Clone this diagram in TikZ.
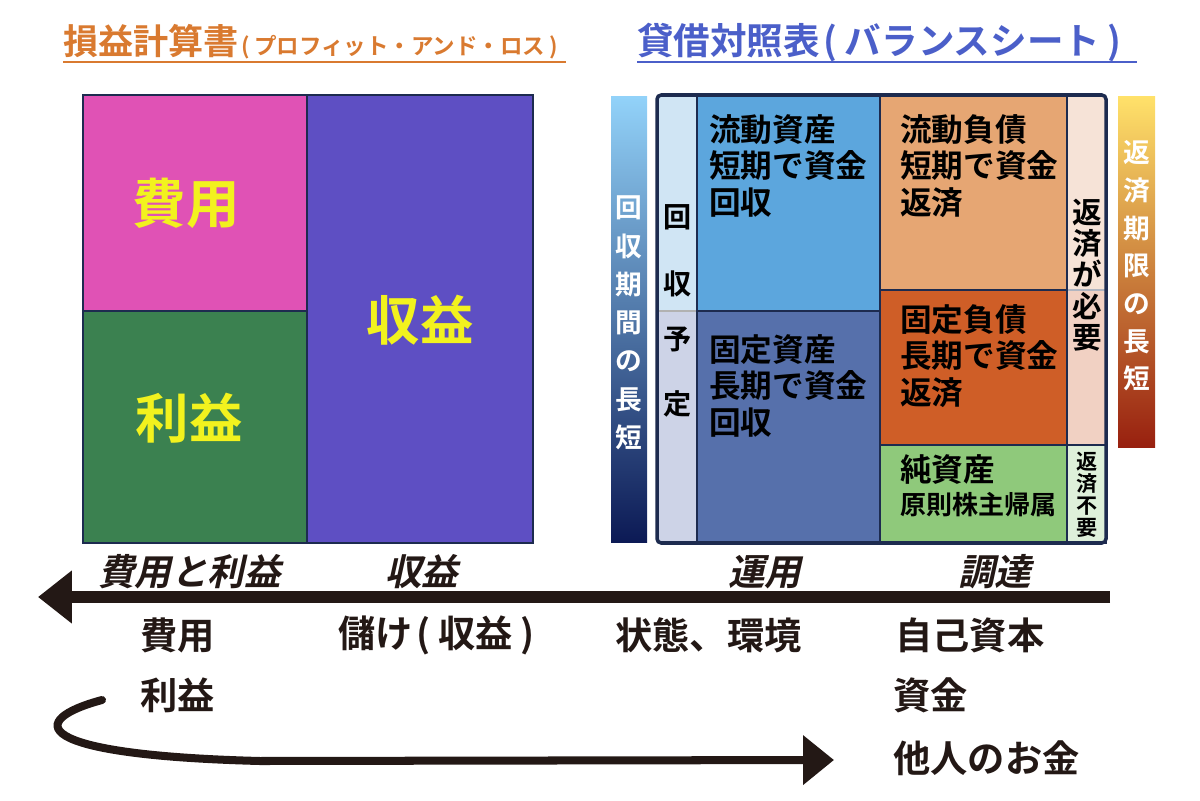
\documentclass[tikz,border=0pt]{standalone}
\usepackage{fontspec}
\setmainfont{Noto Sans CJK JP}[BoldFont={Noto Sans CJK JP Bold}]
\newfontfamily\slantjp{Noto Sans CJK JP Bold}[FakeSlant=0.22]
\usetikzlibrary{arrows.meta}
\definecolor{plorange}{HTML}{D97A30}
\definecolor{bsblue}{HTML}{4B5FC9}
\definecolor{frame}{HTML}{1D2B4F}
\definecolor{hiyou}{HTML}{E052B5}
\definecolor{rieki}{HTML}{3B8150}
\definecolor{shueki}{HTML}{5E4FC3}
\definecolor{txtyellow}{HTML}{F2F21E}
\definecolor{kaishuA}{HTML}{D0E5F4}
\definecolor{kaishuB}{HTML}{CDD3E7}
\definecolor{ryudoA}{HTML}{5CA6DD}
\definecolor{koteiA}{HTML}{5670AB}
\definecolor{ryudoF}{HTML}{E6A673}
\definecolor{koteiF}{HTML}{CF5E27}
\definecolor{junshi}{HTML}{8FC97B}
\definecolor{hensaiA}{HTML}{F6E3D7}
\definecolor{hensaiB}{HTML}{F1D1C3}
\definecolor{fuyou}{HTML}{DEF0DA}
\definecolor{gradAtop}{HTML}{92D2F9}
\definecolor{gradAbot}{HTML}{0C1A55}
\definecolor{gradBtop}{HTML}{FFE16A}
\definecolor{gradBbot}{HTML}{98200F}
\definecolor{ink}{HTML}{231815}
\newcommand\fsz[2]{\fontsize{#1}{#2}\selectfont}
\newcommand\lp{\hspace{0.1em}(\hspace{0.2em}}
\newcommand\rp{\hspace{0.2em})}
\tikzset{
  cell/.style={draw=frame, line width=2pt},
  bigtxt/.style={text=txtyellow, font=\bfseries\fsz{38}{40}},
  bstxt/.style={anchor=north west, align=left, inner sep=0pt, font=\bfseries\fsz{22.5}{26}},
  vtxt/.style={align=center, inner sep=0pt},
  axlabel/.style={anchor=west, inner sep=0pt, text=ink, font=\slantjp\fsz{26}{28}},
  lowlabel/.style={anchor=west, inner sep=0pt, text=ink, font=\bfseries\fsz{26.5}{28}},
}
\begin{document}
\begin{tikzpicture}[x=0.025cm, y=-0.025cm]
\useasboundingbox (0,0) rectangle (1200,800);
% titles
\node[anchor=base west, inner sep=0pt, text=plorange, font=\bfseries\fsz{25}{27}] (pltitle) at (63,55)
  {損益計算書{\fsz{16}{17}\lp プロフィット・アンド・ロス\rp}};
\draw[plorange, line width=1.3pt] (63,62) -- (566,62);
\node[anchor=base west, inner sep=0pt, text=bsblue, font=\bfseries\fsz{26}{27}] (bstitle) at (637,55)
  {貸借対照表\lp バランスシート\rp};
\draw[bsblue, line width=1.3pt] (637,62) -- (1137,62);
% P/L
\draw[cell, fill=hiyou] (83,95) rectangle (307,311);
\draw[cell, fill=rieki] (83,311) rectangle (307,543);
\draw[cell, fill=shueki] (307,95) rectangle (533,543);
\node[bigtxt] (hiyoubox) at (186,203) {費用};
\node[bigtxt] (riekibox) at (189,418) {利益};
\node[bigtxt] (shuekibox) at (420,320) {収益};
% gradient bars
\shade[top color=gradAtop, bottom color=gradAbot] (611,97) rectangle (647,542);
\node[vtxt, text=white, font=\bfseries\fsz{19}{27.2}] (kikanA) at (629,323) {回\\収\\期\\間\\の\\長\\短};
\shade[top color=gradBtop, bottom color=gradBbot] (1118,97) rectangle (1155,447);
\node[vtxt, text=white, font=\bfseries\fsz{19}{26.8}] (kikanB) at (1137,266) {返\\済\\期\\限\\の\\長\\短};
% B/S
\fill[kaishuA] (657,95) rectangle (697,311);
\fill[kaishuB] (657,311) rectangle (697,543);
\draw[black!30, line width=1pt] (657,311) -- (697,311);
\draw[cell, fill=ryudoA] (697,95) rectangle (880,311);
\draw[cell, fill=koteiA] (697,311) rectangle (880,543);
\draw[cell, fill=ryudoF] (880,95) rectangle (1067,290);
\draw[cell, fill=koteiF] (880,290) rectangle (1067,445);
\draw[cell, fill=junshi] (880,445) rectangle (1067,543);
\fill[hensaiA] (1067,95) rectangle (1106,290);
\fill[hensaiB] (1067,290) rectangle (1106,445);
\draw[frame!35, line width=1.5pt] (1067,290) -- (1106,290);
\draw[cell, fill=fuyou] (1067,445) rectangle (1106,543);
\draw[cell] (1067,95) -- (1067,445);
\draw[cell, line width=2.5pt, rounded corners=3pt] (657,95) rectangle (1106,543);
\node[vtxt, font=\bfseries\fsz{20}{48}] (kaishu) at (678,251) {回\\収};
\node[vtxt, font=\bfseries\fsz{20}{46}] (yotei) at (678,372) {予\\定};
\node[bstxt] (ryudoshisan) at (709,114) {流動資産\\短期で資金\\回収};
\node[bstxt] (koteishisan) at (709,334) {固定資産\\長期で資金\\回収};
\node[bstxt] (ryudofusai) at (900,114) {流動負債\\短期で資金\\返済};
\node[bstxt] (koteifusai) at (900,304) {固定負債\\長期で資金\\返済};
\node[anchor=west, inner sep=0pt, font=\bfseries\fsz{22.5}{26}] (junshisan) at (900,470) {純資産};
\node[anchor=west, inner sep=0pt, font=\bfseries\fsz{18.5}{20}] (kabunushi) at (900,505) {原則株主帰属};
\node[vtxt, font=\bfseries\fsz{21}{22.2}] (hitsuyou) at (1087,275) {返\\済\\が\\必\\要};
\node[vtxt, font=\bfseries\fsz{15}{15.6}] (fuyoutxt) at (1087,495) {返\\済\\不\\要};
% axis
\node[axlabel] (ax1) at (98,572) {費用と利益};
\node[axlabel] (ax2) at (385,572) {収益};
\node[axlabel] (ax3) at (728,572) {運用};
\node[axlabel] (ax4) at (958,572) {調達};
\coordinate (axR) at (1110,597);
\coordinate (axL) at (38,597);
\draw[ink, line width=8.5pt, -{Triangle[length=24pt, width=36pt]}] (axR) -- (axL);
% lower labels
\node[lowlabel] (low1) at (140,635) {費用};
\node[lowlabel] (low2) at (338,635) {儲け\lp 収益\rp};
\node[lowlabel] (low3) at (615,635) {状態、環境};
\node[lowlabel] (low4) at (895,635) {自己資本};
\node[lowlabel] (low5) at (140,695) {利益};
\node[lowlabel] (low6) at (893,695) {資金};
\node[lowlabel] (low7) at (893,758) {他人のお金};
% return arrow
\coordinate (crvS) at (102,700);
\coordinate (crvE) at (834,760);
\draw[ink, line width=5.7pt, line cap=round, -{Triangle[length=22pt, width=34pt]}]
  (crvS) .. controls (27,720) and (27,755) .. (260,761) -- (crvE);
\end{tikzpicture}
\end{document}
